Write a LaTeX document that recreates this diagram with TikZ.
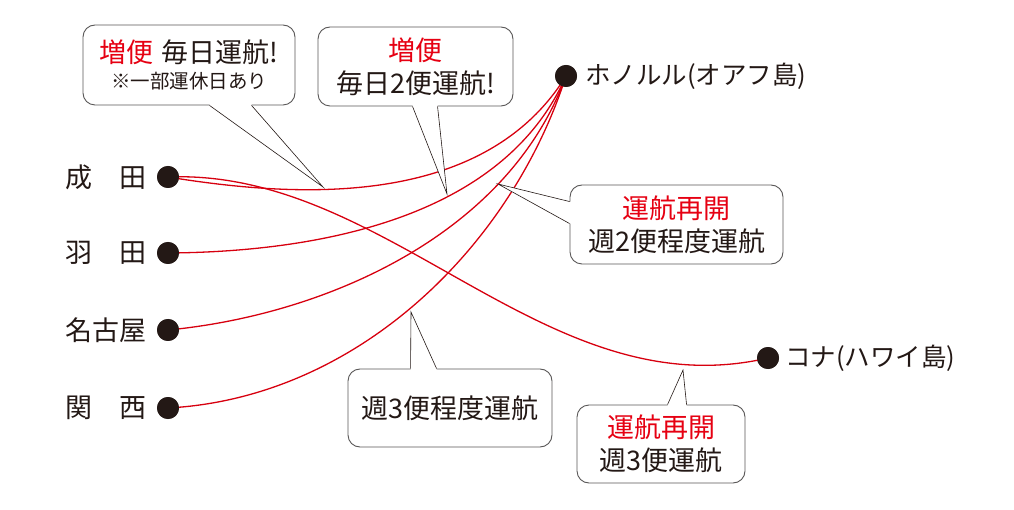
\documentclass[tikz,border=0pt]{standalone}
\usepackage{fontspec}
\setmainfont{Noto Sans CJK JP}
\usetikzlibrary{calc}
\definecolor{hred}{HTML}{E60012}
\definecolor{lred}{HTML}{D7000F}
\definecolor{ink}{HTML}{231815}
\definecolor{frame}{HTML}{595757}
\begin{document}
\begin{tikzpicture}[x=1pt,y=-1pt,
  airport/.style={circle,fill=ink,minimum size=22pt,inner sep=0pt},
  place/.style={inner sep=0pt,text=ink,font=\fontsize{27}{27}\selectfont},
  island/.style={inner sep=0pt,text=ink,font=\fontsize{25.5}{25.5}\selectfont},
  route/.style={lred,line width=1.3pt},
  callout/.style={draw=frame,line width=0.9pt,fill=white,rounded corners=12pt,inner sep=0pt,text=ink,align=center,font=\fontsize{27}{33}\selectfont},
  pointer/.style={ink,line width=0.6pt}]
\useasboundingbox (0,0) rectangle (1014,510);
% airports
\node[airport] (nrt) at (168,177) {};
\node[airport] (hnd) at (168,253) {};
\node[airport] (ngo) at (168,330) {};
\node[airport] (kix) at (168,408) {};
\node[airport] (hnl) at (566,76) {};
\node[airport] (koa) at (768,358) {};
% routes
\begin{scope}[on background layer/.style={}]
\draw[route] (nrt.center) .. controls (280,195) and (480,215) .. (hnl.center);
\draw[route] (hnd.center) .. controls (309,252) and (502,222) .. (hnl.center);
\draw[route] (ngo.center) .. controls (325,315) and (508,235) .. (hnl.center);
\draw[route] (kix.center) .. controls (357,398) and (511,247) .. (hnl.center);
\draw[route] (nrt.center) .. controls (389,168) and (545,410) .. (koa.center);
\end{scope}
% redraw airports on top
\node[airport] at (nrt) {};
\node[airport] at (hnd) {};
\node[airport] at (ngo) {};
\node[airport] at (kix) {};
\node[airport] at (hnl) {};
\node[airport] at (koa) {};
% labels
\node[place,anchor=east] (nrtl) at (147,177) {成\hspace{1em}田};
\node[place,anchor=east] (hndl) at (147,253) {羽\hspace{1em}田};
\node[place,anchor=east] (ngol) at (147,330) {名古屋};
\node[place,anchor=east] (kixl) at (147,408) {関\hspace{1em}西};
\node[island,anchor=west] (hnll) at (585,76) {ホノルル(オアフ島)};
\node[island,anchor=west] (koal) at (785,358) {コナ(ハワイ島)};
% callouts
\node[callout,minimum width=212pt,minimum height=80pt] (c1) at (189,65)
  {\textcolor{hred}{増便}\hspace{0.3em}毎日運航!\\[-7pt]{\fontsize{19.5}{26}\selectfont ※一部運休日あり}};
\node[callout,minimum width=195pt,minimum height=79pt] (c2) at (415.5,66.5)
  {\textcolor{hred}{増便}\\毎日2便運航!};
\node[callout,minimum width=213pt,minimum height=79pt] (c3) at (676.5,224.5)
  {\textcolor{hred}{運航再開}\\週2便程度運航};
\node[callout,minimum width=204pt,minimum height=78pt] (c4) at (450,408)
  {週3便程度運航};
\node[callout,minimum width=168pt,minimum height=78pt] (c5) at (661,444)
  {\textcolor{hred}{運航再開}\\週3便運航};
% pointer tips
\coordinate (t1) at (323,187);
\coordinate (t2) at (447,194);
\coordinate (t3) at (498,184);
\coordinate (t4) at (411,312);
\coordinate (t5) at (683,370);
% pointer bases
\coordinate (p1a) at ($(c1.south west)+(127,0)$);
\coordinate (p1b) at ($(c1.south west)+(169,0)$);
\coordinate (p2a) at ($(c2.south west)+(95,0)$);
\coordinate (p2b) at ($(c2.south west)+(120,0)$);
\coordinate (p3a) at ($(c3.north west)+(0,17)$);
\coordinate (p3b) at ($(c3.north west)+(0,39)$);
\coordinate (p4a) at ($(c4.north west)+(63,0)$);
\coordinate (p4b) at ($(c4.north west)+(89,0)$);
\coordinate (p5a) at ($(c5.north west)+(91,0)$);
\coordinate (p5b) at ($(c5.north west)+(110,0)$);
% pointers
\fill[white] ($(p1a)+(0,-1.5)$) -- (p1a) -- (t1) -- (p1b) -- ($(p1b)+(0,-1.5)$) -- cycle;
\draw[pointer] (p1a) -- (t1) -- (p1b);
\fill[white] ($(p2a)+(0,-1.5)$) -- (p2a) -- (t2) -- (p2b) -- ($(p2b)+(0,-1.5)$) -- cycle;
\draw[pointer] (p2a) -- (t2) -- (p2b);
\fill[white] ($(p3a)+(1.5,0)$) -- (p3a) -- (t3) -- (p3b) -- ($(p3b)+(1.5,0)$) -- cycle;
\draw[pointer] (p3a) -- (t3) -- (p3b);
\fill[white] ($(p4a)+(0,1.5)$) -- (p4a) -- (t4) -- (p4b) -- ($(p4b)+(0,1.5)$) -- cycle;
\draw[pointer] (p4a) -- (t4) -- (p4b);
\fill[white] ($(p5a)+(0,1.5)$) -- (p5a) -- (t5) -- (p5b) -- ($(p5b)+(0,1.5)$) -- cycle;
\draw[pointer] (p5a) -- (t5) -- (p5b);
\end{tikzpicture}
\end{document}
